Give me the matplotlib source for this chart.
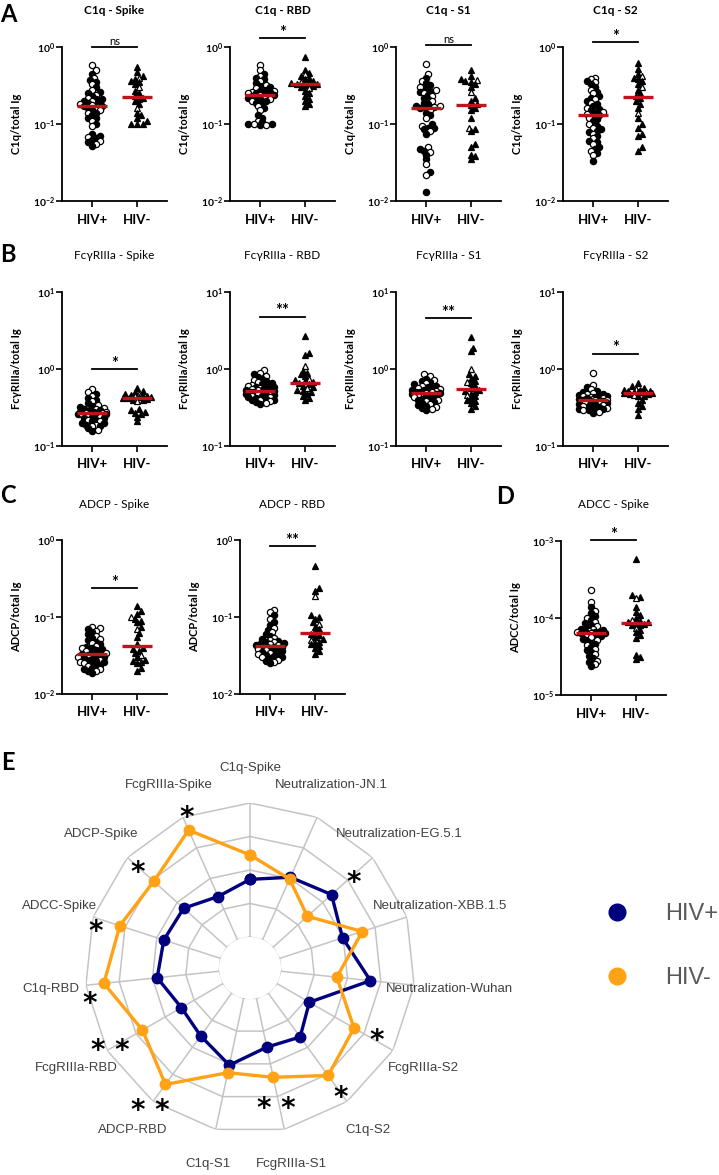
import numpy as np
import matplotlib
matplotlib.use('Agg')
import matplotlib.pyplot as plt
from matplotlib.lines import Line2D
from matplotlib.ticker import FixedLocator, FuncFormatter, NullLocator

plt.rcParams['font.family'] = ['Lato', 'DejaVu Sans']
plt.rcParams['mathtext.fontset'] = 'custom'
plt.rcParams['mathtext.rm'] = 'Lato:bold'
plt.rcParams['mathtext.bf'] = 'Lato:bold'
plt.rcParams['mathtext.it'] = 'Lato:bold'

# ---- data (sorted high -> low) ----
groups = ['HIV+', 'HIV-']

c1q_spike_pos = [0.58, 0.50, 0.45, 0.40, 0.37, 0.35, 0.33, 0.30, 0.28, 0.26, 0.25, 0.24, 0.23, 0.22, 0.21, 0.21, 0.20, 0.20, 0.19, 0.18, 0.18, 0.175, 0.17, 0.17, 0.16, 0.16, 0.15, 0.15, 0.14, 0.14, 0.13, 0.12, 0.12, 0.11, 0.10, 0.095, 0.075, 0.07, 0.068, 0.065, 0.062, 0.06, 0.058, 0.055, 0.052]
c1q_spike_neg = [0.55, 0.48, 0.42, 0.40, 0.38, 0.36, 0.35, 0.33, 0.30, 0.27, 0.25, 0.23, 0.22, 0.21, 0.20, 0.18, 0.16, 0.14, 0.13, 0.12, 0.11, 0.10, 0.10, 0.10]

c1q_rbd_pos = [0.58, 0.50, 0.45, 0.42, 0.40, 0.38, 0.36, 0.34, 0.32, 0.31, 0.30, 0.29, 0.28, 0.27, 0.27, 0.26, 0.26, 0.25, 0.25, 0.25, 0.24, 0.24, 0.24, 0.23, 0.23, 0.22, 0.22, 0.21, 0.21, 0.20, 0.20, 0.19, 0.18, 0.17, 0.16, 0.15, 0.13, 0.12, 0.11, 0.105, 0.10, 0.10, 0.10, 0.098, 0.097]
c1q_rbd_neg = [0.75, 0.50, 0.46, 0.44, 0.42, 0.40, 0.38, 0.36, 0.35, 0.34, 0.34, 0.33, 0.33, 0.32, 0.31, 0.30, 0.29, 0.27, 0.25, 0.23, 0.21, 0.20, 0.18, 0.17]

c1q_s1_pos = [0.60, 0.45, 0.40, 0.36, 0.34, 0.32, 0.30, 0.29, 0.28, 0.27, 0.26, 0.25, 0.24, 0.23, 0.22, 0.21, 0.20, 0.19, 0.18, 0.17, 0.17, 0.165, 0.16, 0.16, 0.15, 0.14, 0.13, 0.12, 0.10, 0.095, 0.09, 0.088, 0.085, 0.08, 0.075, 0.05, 0.047, 0.045, 0.043, 0.04, 0.035, 0.03, 0.024, 0.022, 0.013]
c1q_s1_neg = [0.50, 0.42, 0.38, 0.37, 0.36, 0.35, 0.33, 0.30, 0.26, 0.22, 0.20, 0.18, 0.175, 0.16, 0.15, 0.12, 0.09, 0.085, 0.08, 0.055, 0.05, 0.04, 0.038, 0.035]

c1q_s2_pos = [0.40, 0.38, 0.36, 0.35, 0.33, 0.30, 0.28, 0.26, 0.25, 0.23, 0.22, 0.21, 0.20, 0.19, 0.18, 0.17, 0.16, 0.155, 0.15, 0.145, 0.14, 0.135, 0.13, 0.125, 0.12, 0.115, 0.11, 0.10, 0.095, 0.09, 0.085, 0.08, 0.078, 0.075, 0.07, 0.065, 0.06, 0.058, 0.055, 0.05, 0.048, 0.045, 0.042, 0.04, 0.033]
c1q_s2_neg = [0.62, 0.52, 0.45, 0.42, 0.40, 0.38, 0.36, 0.33, 0.30, 0.28, 0.25, 0.23, 0.22, 0.20, 0.18, 0.16, 0.14, 0.12, 0.10, 0.09, 0.075, 0.07, 0.05, 0.045]

fc_spike_pos = [0.55, 0.50, 0.47, 0.45, 0.42, 0.40, 0.38, 0.36, 0.34, 0.33, 0.32, 0.31, 0.30, 0.30, 0.29, 0.29, 0.28, 0.28, 0.28, 0.27, 0.27, 0.27, 0.27, 0.26, 0.26, 0.26, 0.25, 0.25, 0.24, 0.24, 0.23, 0.23, 0.22, 0.22, 0.21, 0.21, 0.20, 0.20, 0.19, 0.19, 0.18, 0.18, 0.17, 0.16, 0.155]
fc_spike_neg = [0.56, 0.52, 0.50, 0.48, 0.47, 0.46, 0.45, 0.44, 0.44, 0.43, 0.43, 0.42, 0.42, 0.41, 0.40, 0.39, 0.38, 0.30, 0.29, 0.28, 0.27, 0.26, 0.24, 0.21]

fc_rbd_pos = [0.98, 0.90, 0.85, 0.80, 0.78, 0.75, 0.72, 0.70, 0.68, 0.66, 0.64, 0.62, 0.61, 0.60, 0.59, 0.58, 0.57, 0.56, 0.55, 0.55, 0.54, 0.53, 0.52, 0.52, 0.51, 0.50, 0.50, 0.49, 0.48, 0.47, 0.46, 0.46, 0.45, 0.44, 0.43, 0.43, 0.42, 0.41, 0.40, 0.40, 0.39, 0.38, 0.37, 0.36, 0.35]
fc_rbd_neg = [2.7, 1.6, 1.5, 1.1, 0.95, 0.90, 0.85, 0.80, 0.75, 0.72, 0.70, 0.67, 0.65, 0.63, 0.60, 0.58, 0.56, 0.54, 0.52, 0.50, 0.48, 0.45, 0.42, 0.40]

fc_s1_pos = [0.85, 0.80, 0.75, 0.72, 0.70, 0.68, 0.65, 0.63, 0.61, 0.60, 0.58, 0.57, 0.56, 0.55, 0.54, 0.53, 0.52, 0.52, 0.51, 0.50, 0.50, 0.49, 0.49, 0.48, 0.47, 0.47, 0.46, 0.45, 0.44, 0.43, 0.42, 0.41, 0.40, 0.40, 0.39, 0.38, 0.37, 0.36, 0.35, 0.34, 0.33, 0.32, 0.31, 0.30, 0.29]
fc_s1_neg = [2.6, 1.9, 1.7, 1.0, 0.85, 0.80, 0.75, 0.70, 0.68, 0.65, 0.60, 0.57, 0.54, 0.52, 0.50, 0.48, 0.46, 0.44, 0.42, 0.40, 0.38, 0.36, 0.33, 0.30]

fc_s2_pos = [0.90, 0.62, 0.58, 0.55, 0.52, 0.50, 0.49, 0.48, 0.47, 0.46, 0.45, 0.44, 0.44, 0.43, 0.43, 0.42, 0.42, 0.41, 0.41, 0.41, 0.40, 0.40, 0.40, 0.39, 0.39, 0.38, 0.38, 0.37, 0.37, 0.36, 0.36, 0.35, 0.35, 0.34, 0.33, 0.33, 0.32, 0.31, 0.31, 0.30, 0.30, 0.29, 0.29, 0.28, 0.27]
fc_s2_neg = [0.65, 0.60, 0.57, 0.55, 0.54, 0.53, 0.52, 0.52, 0.51, 0.51, 0.50, 0.50, 0.49, 0.49, 0.48, 0.47, 0.46, 0.45, 0.44, 0.40, 0.36, 0.33, 0.30, 0.25]

adcp_spike_pos = [0.075, 0.072, 0.07, 0.066, 0.063, 0.06, 0.057, 0.054, 0.052, 0.05, 0.048, 0.046, 0.044, 0.042, 0.041, 0.04, 0.039, 0.038, 0.037, 0.036, 0.035, 0.034, 0.033, 0.033, 0.032, 0.031, 0.030, 0.030, 0.029, 0.028, 0.028, 0.027, 0.026, 0.026, 0.025, 0.025, 0.024, 0.023, 0.023, 0.022, 0.021, 0.021, 0.020, 0.020, 0.019]
adcp_spike_neg = [0.14, 0.12, 0.11, 0.10, 0.095, 0.09, 0.085, 0.075, 0.07, 0.062, 0.055, 0.045, 0.04, 0.038, 0.036, 0.034, 0.032, 0.030, 0.028, 0.027, 0.026, 0.025, 0.022, 0.02]

adcp_rbd_pos = [0.125, 0.115, 0.105, 0.095, 0.085, 0.078, 0.072, 0.068, 0.064, 0.06, 0.057, 0.054, 0.052, 0.05, 0.049, 0.048, 0.047, 0.046, 0.045, 0.044, 0.043, 0.043, 0.042, 0.041, 0.041, 0.040, 0.039, 0.038, 0.038, 0.037, 0.036, 0.036, 0.035, 0.034, 0.033, 0.033, 0.032, 0.031, 0.030, 0.030, 0.029, 0.028, 0.027, 0.026, 0.025]
adcp_rbd_neg = [0.46, 0.24, 0.22, 0.19, 0.105, 0.10, 0.095, 0.085, 0.08, 0.075, 0.07, 0.065, 0.06, 0.058, 0.055, 0.052, 0.05, 0.048, 0.046, 0.044, 0.042, 0.04, 0.036, 0.033]

adcc_spike_pos = [2.3e-4, 1.6e-4, 1.4e-4, 1.25e-4, 1.15e-4, 1.05e-4, 1.0e-4, 9.5e-5, 9.0e-5, 8.6e-5, 8.2e-5, 7.9e-5, 7.6e-5, 7.3e-5, 7.1e-5, 6.9e-5, 6.8e-5, 6.7e-5, 6.6e-5, 6.5e-5, 6.5e-5, 6.4e-5, 6.4e-5, 6.3e-5, 6.2e-5, 6.0e-5, 5.8e-5, 5.6e-5, 5.4e-5, 5.2e-5, 5.0e-5, 4.8e-5, 4.6e-5, 4.4e-5, 4.2e-5, 4.0e-5, 3.8e-5, 3.6e-5, 3.4e-5, 3.2e-5, 3.0e-5, 2.8e-5, 2.7e-5, 2.5e-5, 2.4e-5]
adcc_spike_neg = [5.8e-4, 2.0e-4, 1.9e-4, 1.8e-4, 1.4e-4, 1.2e-4, 1.1e-4, 1.0e-4, 9.5e-5, 9.2e-5, 9.0e-5, 8.8e-5, 8.6e-5, 8.4e-5, 8.2e-5, 8.0e-5, 7.5e-5, 7.0e-5, 6.5e-5, 6.0e-5, 5.5e-5, 3.3e-5, 3.1e-5, 2.9e-5]

# open (hollow) symbols, by rank in the lists above
pos_open = [1, 1, 0, 1, 0, 0, 1, 0, 1, 0, 0, 1, 0, 1, 0, 0, 1, 0, 0, 1, 0, 1, 0, 0, 1, 0, 0, 1, 0, 1, 0, 0, 0, 1, 0, 1, 0, 0, 1, 0, 0, 1, 0, 1, 0]
neg_open = [0, 0, 0, 1, 0, 0, 0, 0, 1, 0, 0, 0, 0, 0, 0, 0, 1, 0, 0, 0, 0, 0, 0, 0]

sig = {'c1q_spike': 'ns', 'c1q_rbd': '*', 'c1q_s1': 'ns', 'c1q_s2': '*',
       'fc_spike': '*', 'fc_rbd': '**', 'fc_s1': '**', 'fc_s2': '*',
       'adcp_spike': '*', 'adcp_rbd': '**', 'adcc_spike': '*'}

# radar (E), clockwise from top
radar_labels = ['C1q-Spike', 'Neutralization-JN.1', 'Neutralization-EG.5.1', 'Neutralization-XBB.1.5',
                'Neutralization-Wuhan', 'FcgRIIIa-S2', 'C1q-S2', 'FcgRIIIa-S1', 'C1q-S1', 'ADCP-RBD',
                'FcgRIIIa-RBD', 'C1q-RBD', 'ADCC-Spike', 'ADCP-Spike', 'FcgRIIIa-Spike']
radar_pos = [1.72, 2.04, 2.35, 1.98, 2.69, 1.12, 1.62, 1.49, 2.04, 1.58, 1.44, 1.86, 1.78, 1.74, 1.41]
radar_neg = [2.45, 1.98, 1.38, 2.60, 1.68, 2.66, 3.04, 2.41, 2.27, 3.37, 2.78, 3.46, 3.16, 2.94, 3.58]
radar_stars = ['', '', '*', '', '', '*', '*', '**', '', '**', '**', '*', '*', '*', '*']

# ---- figure ----
W, H = 719, 1175
fig = plt.figure(figsize=(W / 100, H / 100), dpi=100)


def add_ax(left, top, width, height, **kw):
    return fig.add_axes([left / W, 1 - (top + height) / H, width / W, height / H], **kw)


def swarm(ax, xc, vals, d=4.2, step=2.0, half=15):
    # deterministic beeswarm in pixel space, clamped to +-half px
    y = ax.transData.transform(np.column_stack([np.full(len(vals), xc), vals]))[:, 1]
    ppu = ax.transData.transform([[1, 1]])[0, 0] - ax.transData.transform([[0, 1]])[0, 0]
    cands = [0.0]
    k = 1
    while k * step <= half:
        cands += [k * step, -k * step]
        k += 1
    placed = []
    offs = np.zeros(len(vals))
    for i in np.argsort(y):
        best, best_d = 0.0, -1
        for o in cands:
            md = min([np.hypot(o - px, y[i] - py) for px, py in placed] or [99])
            if md >= d:
                best = o
                break
            if md > best_d:
                best, best_d = o, md
        placed.append((best, y[i]))
        offs[i] = best
    return xc + offs / ppu


def log_fmt(v, p):
    return r'$\mathbf{10^{%d}}$' % round(np.log10(v))


def dot_panel(left, top, title, ylabel, ylim, pos, neg, star, bar_y, bold_title=True):
    ax = add_ax(left, top, 105, 154)
    ax.set_yscale('log')
    ax.set_ylim(*ylim)
    ax.set_xlim(-0.667, 1.667)
    ax.spines['top'].set_visible(False)
    ax.spines['right'].set_visible(False)
    for s in ['left', 'bottom']:
        ax.spines[s].set_linewidth(1.3)
    dec = np.arange(round(np.log10(ylim[0])), round(np.log10(ylim[1])) + 1)
    ax.yaxis.set_major_locator(FixedLocator(10.0 ** dec))
    ax.yaxis.set_minor_locator(NullLocator())
    ax.yaxis.set_major_formatter(FuncFormatter(log_fmt))
    ax.tick_params(axis='y', labelsize=7.5, length=4, width=1.2, pad=1)
    ax.set_xticks([0, 1])
    ax.set_xticklabels(groups, fontsize=9.5, fontweight='bold')
    ax.tick_params(axis='x', length=4, width=1.2, pad=5)
    ax.set_ylabel(ylabel, fontsize=8, fontweight='bold', labelpad=8)
    ax.text(0.5, 1 + 36 / 154, title, transform=ax.transAxes, ha='center', va='center',
            fontsize=8.5, fontweight='bold' if bold_title else 'normal')

    xs = swarm(ax, 0, pos)
    for x, v, o in zip(xs, pos, pos_open):
        ax.plot(x, v, 'o', ms=4.5, mec='black', mew=0.9, mfc='white' if o else 'black', zorder=3)
    xs = swarm(ax, 1, neg)
    for x, v, o in zip(xs, neg, neg_open):
        ax.plot(x, v, '^', ms=4.5, mec='black', mew=0.9, mfc='white' if o else 'black', zorder=3)
    for x, vals in [(0, pos), (1, neg)]:
        m = np.median(vals)
        ax.plot([x - 0.34, x + 0.34], [m, m], color='#c0141b', lw=2.4, zorder=4, solid_capstyle='butt')

    tr = ax.get_xaxis_transform()
    ax.plot([0, 1], [bar_y, bar_y], color='black', lw=1.3, transform=tr, clip_on=False)
    if star == 'ns':
        ax.text(0.5, bar_y, 'ns', transform=tr, ha='center', va='bottom', fontsize=8)
    else:
        ax.annotate(star, xy=(0.5, bar_y), xycoords=tr, xytext=(0, -2), textcoords='offset points',
                    ha='center', va='bottom', fontsize=12, fontweight='bold')
    return ax


lefts = [62, 230, 396, 563]
# row A
dot_panel(lefts[0], 47, 'C1q - Spike', 'C1q/total Ig', (1e-2, 1), c1q_spike_pos, c1q_spike_neg, sig['c1q_spike'], 1.0)
dot_panel(lefts[1], 47, 'C1q - RBD', 'C1q/total Ig', (1e-2, 1), c1q_rbd_pos, c1q_rbd_neg, sig['c1q_rbd'], 1.06)
dot_panel(lefts[2], 47, 'C1q - S1', 'C1q/total Ig', (1e-2, 1), c1q_s1_pos, c1q_s1_neg, sig['c1q_s1'], 1.01)
dot_panel(lefts[3], 47, 'C1q - S2', 'C1q/total Ig', (1e-2, 1), c1q_s2_pos, c1q_s2_neg, sig['c1q_s2'], 1.03)
# row B
fl = 'FcγRIIIa/total Ig'
dot_panel(lefts[0], 292, 'FcγRIIIa - Spike', fl, (1e-1, 10), fc_spike_pos, fc_spike_neg, sig['fc_spike'], 0.50, False)
dot_panel(lefts[1], 292, 'FcγRIIIa - RBD', fl, (1e-1, 10), fc_rbd_pos, fc_rbd_neg, sig['fc_rbd'], 0.84, False)
dot_panel(lefts[2], 292, 'FcγRIIIa - S1', fl, (1e-1, 10), fc_s1_pos, fc_s1_neg, sig['fc_s1'], 0.83, False)
dot_panel(lefts[3], 292, 'FcγRIIIa - S2', fl, (1e-1, 10), fc_s2_pos, fc_s2_neg, sig['fc_s2'], 0.60, False)
# row C / D
dot_panel(62, 540, 'ADCP - Spike', 'ADCP/total Ig', (1e-2, 1), adcp_spike_pos, adcp_spike_neg, sig['adcp_spike'], 0.69, False)
dot_panel(240, 540, 'ADCP - RBD', 'ADCP/total Ig', (1e-2, 1), adcp_rbd_pos, adcp_rbd_neg, sig['adcp_rbd'], 0.96, False)
dot_panel(561, 541, 'ADCC - Spike', 'ADCC/total Ig', (1e-5, 1e-3), adcc_spike_pos, adcc_spike_neg, sig['adcc_spike'], 1.006, False)

for lab, x, y in [('A', 8, 15), ('B', 8, 255), ('C', 8, 495), ('D', 505, 497), ('E', 8, 762)]:
    fig.text(x / W, 1 - y / H, lab, fontsize=17, fontweight='bold', ha='center', va='center')

# ---- radar (E) ----
cx, cy, R = 250, 968, 165
rax = add_ax(cx - R, cy - R, 2 * R, 2 * R, projection='polar')
rax.set_theta_zero_location('N')
rax.set_theta_direction(-1)
rax.set_ylim(0, 4)
rax.set_rorigin(-0.926)
rax.axis('off')

n = len(radar_labels)
theta = np.deg2rad(np.arange(n) * 360 / n)
tc = np.append(theta, theta[0])
gcol = '#c4c4c4'
for lev in range(5):
    rax.plot(tc, [lev] * (n + 1), color=gcol, lw=1.1, zorder=1)
for t in theta:
    rax.plot([t, t], [0, 4], color=gcol, lw=1.1, zorder=1)

blue, orange = '#00007f', '#ffa216'
rax.plot(tc, radar_pos + radar_pos[:1], color=blue, lw=2.4, marker='o', ms=7.5, zorder=3, clip_on=False)
rax.plot(tc, radar_neg + radar_neg[:1], color=orange, lw=2.4, marker='o', ms=7.5, zorder=4, clip_on=False)

for t, lab in zip(theta, radar_labels):
    rax.text(t, 5.05, lab, ha='center', va='center', fontsize=9.5, color='#404040',
             family='Liberation Sans', clip_on=False)

# star placement beside the outer ring (radius, angle shift in deg)
star_r = [0, 0, 3.19, 0, 0, 3.37, 3.67, 3.19, 0, 4.15, 3.85, 3.94, 3.85, 3.58, 4.09]
star_dt = [0, 0, 1, 0, 0, -2, 0, 1, 0, 0, 1, -4.6, -3, 0, 2]
for t, s, r, dt in zip(theta, radar_stars, star_r, star_dt):
    if s:
        rax.annotate(' '.join(s), xy=(t + np.deg2rad(dt), r), xytext=(0, -4), textcoords='offset points',
                     ha='center', va='center', fontsize=20, fontweight='bold', family='DejaVu Sans',
                     annotation_clip=False)

handles = [Line2D([], [], ls='none', marker='o', ms=12, color=blue),
           Line2D([], [], ls='none', marker='o', ms=12, color=orange)]
fig.legend(handles, groups, loc='upper left', bbox_to_anchor=(608 / W, 1 - 903 / H), frameon=False,
           labelcolor='#595959', handlelength=0.8, handletextpad=1.6, labelspacing=1.8,
           borderpad=0, borderaxespad=0, prop={'family': 'Liberation Sans', 'size': 17})

fig.savefig('out.png', dpi=100)
